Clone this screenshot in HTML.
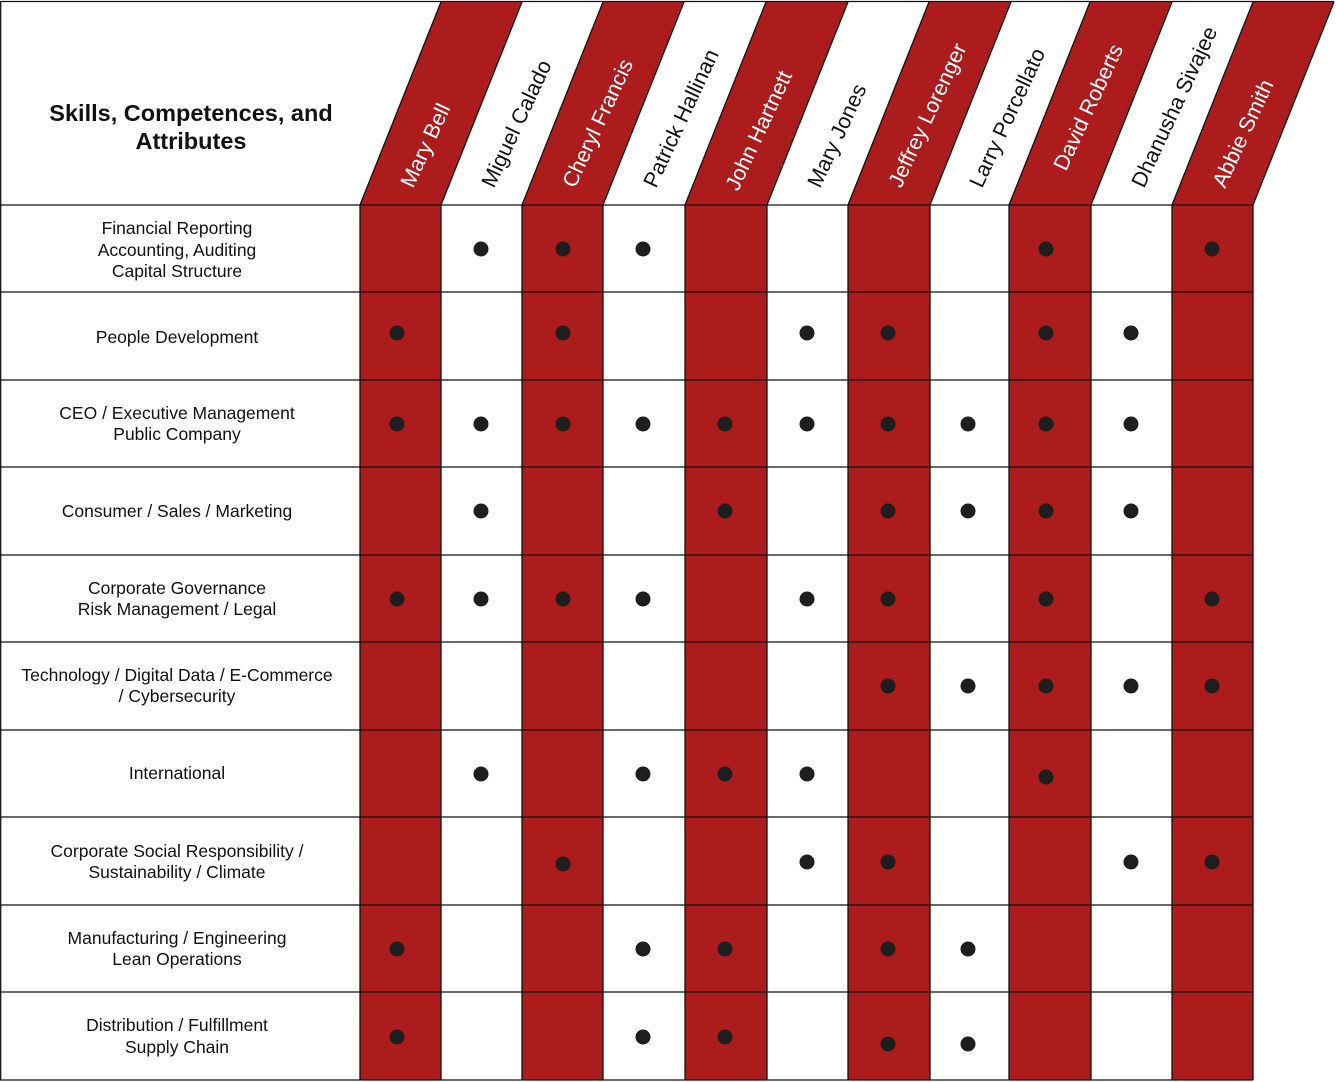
<!DOCTYPE html>
<html><head><meta charset="utf-8"><style>
html,body{margin:0;padding:0;background:#fff}
svg{display:block}
text{font-family:"Liberation Sans",Arial,sans-serif}
</style></head><body>
<svg width="1336" height="1082" viewBox="0 0 1336 1082" xmlns="http://www.w3.org/2000/svg">
<g fill="#ac1c1c">
<polygon points="360,205 441,205 522,2 441,2"/><rect x="360" y="205" width="81" height="875"/>
<polygon points="522,205 603,205 684,2 603,2"/><rect x="522" y="205" width="81" height="875"/>
<polygon points="685,205 767,205 848,2 766,2"/><rect x="685" y="205" width="82" height="875"/>
<polygon points="848,205 930,205 1011,2 929,2"/><rect x="848" y="205" width="82" height="875"/>
<polygon points="1009,205 1091,205 1172,2 1090,2"/><rect x="1009" y="205" width="82" height="875"/>
<polygon points="1172,205 1253,205 1334,2 1253,2"/><rect x="1172" y="205" width="81" height="875"/>
</g>
<g stroke="#111" stroke-width="1.3" fill="none">
<line x1="0" y1="1.5" x2="1334" y2="1.5"/>
<line x1="0.7" y1="1" x2="0.7" y2="1080"/>
<line x1="0" y1="205" x2="1253" y2="205"/>
<line x1="0" y1="292" x2="1253" y2="292"/>
<line x1="0" y1="380" x2="1253" y2="380"/>
<line x1="0" y1="467" x2="1253" y2="467"/>
<line x1="0" y1="555" x2="1253" y2="555"/>
<line x1="0" y1="642" x2="1253" y2="642"/>
<line x1="0" y1="730" x2="1253" y2="730"/>
<line x1="0" y1="817" x2="1253" y2="817"/>
<line x1="0" y1="905" x2="1253" y2="905"/>
<line x1="0" y1="992" x2="1253" y2="992"/>
<line x1="0" y1="1080" x2="1253" y2="1080"/>
<path d="M360,205V1080M441,205V1080M522,205V1080M603,205V1080M685,205V1080M767,205V1080M848,205V1080M930,205V1080M1009,205V1080M1091,205V1080M1172,205V1080M1253,205V1080"/>
<path d="M360,205L441,2M441,205L522,2M522,205L603,2M603,205L684,2M685,205L766,2M767,205L848,2M848,205L929,2M930,205L1011,2M1009,205L1090,2M1091,205L1172,2M1172,205L1253,2M1253,205L1334,2"/>
</g>
<g font-size="23.5" font-weight="bold" fill="#111" text-anchor="middle">
<text x="191" y="121">Skills, Competences, and</text>
<text x="191" y="149">Attributes</text>
</g>
<g font-size="21.5">
<text transform="translate(413,189) rotate(-65)" fill="#fff">Mary Bell</text>
<text transform="translate(494,189) rotate(-65)" fill="#111">Miguel Calado</text>
<text transform="translate(575,189) rotate(-65)" fill="#fff">Cheryl Francis</text>
<text transform="translate(656,189) rotate(-65)" fill="#111">Patrick Hallinan</text>
<text transform="translate(738,192) rotate(-65)" fill="#fff">John Hartnett</text>
<text transform="translate(820,189) rotate(-65)" fill="#111">Mary Jones</text>
<text transform="translate(901,189) rotate(-65)" fill="#fff">Jeffrey Lorenger</text>
<text transform="translate(982,189) rotate(-65)" fill="#111">Larry Porcellato</text>
<text transform="translate(1066,172) rotate(-65)" fill="#fff">David Roberts</text>
<text transform="translate(1144,189) rotate(-65)" fill="#111">Dhanusha Sivajee</text>
<text transform="translate(1225,189) rotate(-65)" fill="#fff">Abbie Smith</text>
</g>
<g font-size="17.5" fill="#111" text-anchor="middle">
<text x="177" y="234">Financial Reporting</text>
<text x="177" y="256">Accounting, Auditing</text>
<text x="177" y="277">Capital Structure</text>
<text x="177" y="343">People Development</text>
<text x="177" y="419">CEO / Executive Management</text>
<text x="177" y="440">Public Company</text>
<text x="177" y="517">Consumer / Sales / Marketing</text>
<text x="177" y="594">Corporate Governance</text>
<text x="177" y="615">Risk Management / Legal</text>
<text x="177" y="681">Technology / Digital Data / E-Commerce</text>
<text x="177" y="702">/ Cybersecurity</text>
<text x="177" y="779">International</text>
<text x="177" y="857">Corporate Social Responsibility /</text>
<text x="177" y="878">Sustainability / Climate</text>
<text x="177" y="944">Manufacturing / Engineering</text>
<text x="177" y="965">Lean Operations</text>
<text x="177" y="1031">Distribution / Fulfillment</text>
<text x="177" y="1053">Supply Chain</text>
</g>
<g fill="#1e1e1e">
<circle cx="481" cy="249" r="7.5"/><circle cx="563" cy="249" r="7.5"/><circle cx="643" cy="249" r="7.5"/><circle cx="1046" cy="249" r="7.5"/><circle cx="1212" cy="249" r="7.5"/>
<circle cx="397" cy="333" r="7.5"/><circle cx="563" cy="333" r="7.5"/><circle cx="807" cy="333" r="7.5"/><circle cx="888" cy="333" r="7.5"/><circle cx="1046" cy="333" r="7.5"/><circle cx="1131" cy="333" r="7.5"/>
<circle cx="397" cy="424" r="7.5"/><circle cx="481" cy="424" r="7.5"/><circle cx="563" cy="424" r="7.5"/><circle cx="643" cy="424" r="7.5"/><circle cx="725" cy="424" r="7.5"/><circle cx="807" cy="424" r="7.5"/><circle cx="888" cy="424" r="7.5"/><circle cx="968" cy="424" r="7.5"/><circle cx="1046" cy="424" r="7.5"/><circle cx="1131" cy="424" r="7.5"/>
<circle cx="481" cy="511" r="7.5"/><circle cx="725" cy="511" r="7.5"/><circle cx="888" cy="511" r="7.5"/><circle cx="968" cy="511" r="7.5"/><circle cx="1046" cy="511" r="7.5"/><circle cx="1131" cy="511" r="7.5"/>
<circle cx="397" cy="599" r="7.5"/><circle cx="481" cy="599" r="7.5"/><circle cx="563" cy="599" r="7.5"/><circle cx="643" cy="599" r="7.5"/><circle cx="807" cy="599" r="7.5"/><circle cx="888" cy="599" r="7.5"/><circle cx="1046" cy="599" r="7.5"/><circle cx="1212" cy="599" r="7.5"/>
<circle cx="888" cy="686" r="7.5"/><circle cx="968" cy="686" r="7.5"/><circle cx="1046" cy="686" r="7.5"/><circle cx="1131" cy="686" r="7.5"/><circle cx="1212" cy="686" r="7.5"/>
<circle cx="481" cy="774" r="7.5"/><circle cx="643" cy="774" r="7.5"/><circle cx="725" cy="774" r="7.5"/><circle cx="807" cy="774" r="7.5"/><circle cx="1046" cy="777" r="7.5"/>
<circle cx="563" cy="864" r="7.5"/><circle cx="807" cy="862" r="7.5"/><circle cx="888" cy="862" r="7.5"/><circle cx="1131" cy="862" r="7.5"/><circle cx="1212" cy="862" r="7.5"/>
<circle cx="397" cy="949" r="7.5"/><circle cx="643" cy="949" r="7.5"/><circle cx="725" cy="949" r="7.5"/><circle cx="888" cy="949" r="7.5"/><circle cx="968" cy="949" r="7.5"/>
<circle cx="397" cy="1037" r="7.5"/><circle cx="643" cy="1037" r="7.5"/><circle cx="725" cy="1037" r="7.5"/><circle cx="888" cy="1044" r="7.5"/><circle cx="968" cy="1044" r="7.5"/>
</g>
</svg>
</body></html>
